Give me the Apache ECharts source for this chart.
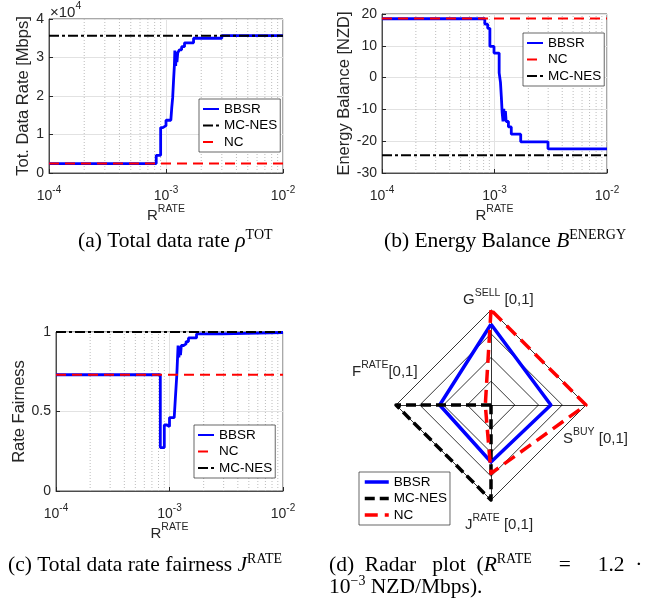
<!DOCTYPE html>
<html>
<head>
<meta charset="utf-8">
<script src="https://cdn.jsdelivr.net/npm/echarts@6.0.0/dist/echarts.min.js"></script>
<style>
html, body { margin: 0; padding: 0; background: #fff; }
#chart { width: 648px; height: 608px; }
</style>
</head>
<body>
<div id="chart"></div>
<script>
// ---- data ----
// (a) total data rate [Mbps] vs R^RATE
var rateA = [1e-4, 8.25e-4, 9.0e-4, 9.4e-4, 1.0e-3, 1.1e-3, 1.12e-3, 1.14e-3, 1.16e-3, 1.18e-3, 1.19e-3, 1.21e-3, 1.22e-3, 1.24e-3, 1.26e-3, 1.3e-3, 1.36e-3, 1.44e-3, 1.72e-3, 3.0e-3, 1e-2];
var bbsrRate = [2450, 4600, 11800, 12300, 13700, 13800, 17000, 19500, 24000, 28000, 31800, 27800, 31500, 28800, 31200, 32000, 32800, 33800, 35000, 35660, 35660];
var ncRate = 2450;
var mcRate = 35660;

// (b) energy balance [NZD]
var rateB = [1e-4, 8.2e-4, 8.7e-4, 9.1e-4, 9.9e-4, 1.1e-3, 1.13e-3, 1.15e-3, 1.17e-3, 1.19e-3, 1.21e-3, 1.23e-3, 1.25e-3, 1.27e-3, 1.33e-3, 1.41e-3, 1.71e-3, 2.99e-3, 1e-2];
var bbsrEnergy = [18.5, 16.8, 15.5, 9.8, 7.7, 1.5, -1.5, -6, -11, -13.8, -9.8, -13.6, -10.5, -13.8, -15.5, -17.8, -20.2, -22.4, -22.4];
var ncEnergy = 18.6;
var mcEnergy = -24.4;

// (c) rate fairness
var rateC = [1e-4, 8.3e-4, 9.0e-4, 9.5e-4, 1.0e-3, 1.1e-3, 1.13e-3, 1.16e-3, 1.19e-3, 1.21e-3, 1.23e-3, 1.25e-3, 1.27e-3, 1.33e-3, 1.4e-3, 1.47e-3, 1.73e-3, 2.9e-3, 1e-2];
var bbsrFair = [0.731, 0.273, 0.415, 0.405, 0.462, 0.466, 0.6, 0.73, 0.915, 0.84, 0.91, 0.855, 0.915, 0.925, 0.94, 0.963, 0.988, 0.997, 0.997];
var ncFair = 0.731;
var mcFair = 1.0;

// (d) radar, axis order G^SELL, F^RATE, J^RATE, S^BUY
var radarBBSR = [0.85, 0.54, 0.6, 0.63];
var radarMC = [0, 1, 1, 0];
var radarNC = [1, 0.06, 0.72, 1];

// axis limits and log minor grid positions
var xRange = [1e-4, 1e-2];
var yRangeA = [0, 40000];
var yRangeB = [-30, 20];
var yRangeC = [0, 1];
var minorTicks = [2e-4, 3e-4, 4e-4, 5e-4, 6e-4, 7e-4, 8e-4, 9e-4, 2e-3, 3e-3, 4e-3, 5e-3, 6e-3, 7e-3, 8e-3, 9e-3];

var myChart = echarts.init(document.getElementById('chart'));

// ---- styles ----
var FONT = 'Liberation Sans, Arial, sans-serif';
var SERIF = 'Liberation Serif, Times New Roman, serif';
var INK = '#262626';
// transparent 1x1 gif, so the legend draws only the line (no marker)
var NO_MARK = 'image://data:image/gif;base64,R0lGODlhAQABAIAAAAAAAP///yH5BAEAAAAALAAAAAABAAEAAAIBRAA7';

var styleBBSR = { color: '#0000ff', width: 2.8, type: 'solid' };
var styleNC = { color: '#ff0000', width: 2, type: [10, 6] };
var styleMC = { color: '#000000', width: 2, type: [10, 3, 3, 3] };

var supRich = {
    m: { fontSize: 15, lineHeight: 24, color: INK, fontFamily: FONT, fontWeight: 'normal' },
    s: { fontSize: 10.5, lineHeight: 10, verticalAlign: 'top', color: INK, fontFamily: FONT, fontWeight: 'normal' }
};
var capRich = {
    n: { fontSize: 21.5, lineHeight: 26, color: '#000', fontFamily: SERIF, fontWeight: 'normal' },
    i: { fontSize: 21.5, lineHeight: 26, color: '#000', fontFamily: SERIF, fontWeight: 'normal', fontStyle: 'italic' },
    s: { fontSize: 14, lineHeight: 12, verticalAlign: 'top', color: '#000', fontFamily: SERIF, fontWeight: 'normal' }
};

function pairs(xs, ys) {
    return xs.map(function (x, i) { return [x, ys[i]]; });
}

function flat(v) {
    return [[xRange[0], v], [xRange[1], v]];
}

function line(name, data, idx, style) {
    return {
        type: 'line',
        name: name,
        xAxisIndex: idx,
        yAxisIndex: idx,
        data: data,
        step: 'end',
        symbol: NO_MARK,
        showSymbol: false,
        clip: false,
        lineStyle: style,
        itemStyle: { color: style.color },
        z: 3
    };
}

// dotted minor grid of the log axis: vertical segments broken by empty values
function minorGrid(idx, yr) {
    var pts = [];
    minorTicks.forEach(function (v) {
        pts.push([v, yr[0]], [v, yr[1]], [v, '-']);
    });
    return {
        type: 'line',
        name: 'minor' + idx,
        xAxisIndex: idx,
        yAxisIndex: idx,
        data: pts,
        symbol: 'none',
        silent: true,
        connectNulls: false,
        lineStyle: { type: [1, 2], color: '#bcbcbc', width: 1 },
        z: 1
    };
}

function xAxis(idx) {
    return {
        type: 'log',
        logBase: 10,
        gridIndex: idx,
        min: xRange[0],
        max: xRange[1],
        axisLine: { onZero: false, lineStyle: { color: INK, width: 0.8 } },
        axisTick: { inside: true, length: 4, lineStyle: { color: INK } },
        splitLine: { show: true, lineStyle: { color: '#e2e2e2', width: 1 } },
        axisLabel: {
            margin: 12,
            formatter: function (v) {
                return '{b|10}{e|' + Math.round(Math.log10(v)) + '}';
            },
            rich: {
                b: { fontSize: 14, lineHeight: 22, color: INK, fontFamily: FONT },
                e: { fontSize: 10, lineHeight: 10, verticalAlign: 'top', color: INK, fontFamily: FONT }
            }
        },
        name: '{m|R}{s|RATE}',
        nameLocation: 'middle',
        nameGap: 28,
        nameTextStyle: { rich: supRich }
    };
}

function yAxis(idx, yr, interval, name, gap, fmt) {
    return {
        type: 'value',
        gridIndex: idx,
        min: yr[0],
        max: yr[1],
        interval: interval,
        axisLine: { show: true, lineStyle: { color: INK, width: 0.8 } },
        axisTick: { show: true, inside: true, length: 4, lineStyle: { color: INK } },
        splitLine: { show: true, lineStyle: { color: '#e2e2e2', width: 1 } },
        axisLabel: { fontSize: 14, color: INK, fontFamily: FONT, margin: 5, formatter: fmt },
        name: name,
        nameLocation: 'middle',
        nameGap: gap,
        nameTextStyle: { fontSize: 16.5, color: INK, fontFamily: FONT }
    };
}

var legendBase = {
    orient: 'vertical',
    padding: [3, 3, 3, 3],
    itemGap: 2.5,
    itemWidth: 16,
    itemHeight: 14,
    selectedMode: false,
    backgroundColor: '#fff',
    borderColor: INK,
    borderWidth: 0.7,
    borderRadius: 0,
    textStyle: { fontSize: 13.5, color: '#000', fontFamily: FONT }
};

function legend(names, left, top, extra) {
    return Object.assign({}, legendBase, { data: names, left: left, top: top }, extra || {});
}

function title(text, left, top, rich) {
    return { text: text, left: left, top: top, padding: 0, textStyle: { fontWeight: 'normal', rich: rich } };
}

var option = {
    animation: false,
    backgroundColor: '#fff',
    title: [
        title('{m|×10}{s|4}', 50, 1, supRich),
        title('{m|G}{s|SELL}{m| [0,1]}', 463, 288, supRich),
        title('{m|F}{s|RATE}{m|[0,1]}', 352, 360, supRich),
        title('{m|S}{s|BUY}{m| [0,1]}', 563, 427, supRich),
        title('{m|J}{s|RATE}{m| [0,1]}', 465, 513, supRich),
        title('{n|(a) Total data rate }{i|ρ}{s|TOT}', 78, 228, capRich),
        title('{n|(b) Energy Balance }{i|B}{s|ENERGY}', 384, 228, capRich),
        title('{n|(c) Total data rate fairness }{i|J}{s|RATE}', 8, 552, capRich),
        title('{n|(d)  Radar   plot  (}{i|R}{s|RATE}{n|     =     1.2  ·}', 329, 552, capRich),
        title('{n|10}{s|−3}{n| NZD/Mbps).}', 329, 574, capRich)
    ],
    grid: [
        { left: 49, top: 19, width: 234, height: 154, show: true, borderColor: INK, borderWidth: 0.8 },
        { left: 382, top: 14, width: 225, height: 159, show: true, borderColor: INK, borderWidth: 0.8 },
        { left: 56, top: 332, width: 227, height: 159, show: true, borderColor: INK, borderWidth: 0.8 }
    ],
    xAxis: [xAxis(0), xAxis(1), xAxis(2)],
    yAxis: [
        yAxis(0, yRangeA, 10000, 'Tot. Data Rate [Mbps]', 10, function (v) { return v / 10000; }),
        yAxis(1, yRangeB, 10, 'Energy Balance [NZD]', 29),
        yAxis(2, yRangeC, 0.5, 'Rate Fairness', 24)
    ],
    legend: [
        legend(['BBSR', 'MC-NES', 'NC'], 199, 99),
        legend(['BBSR', 'NC', 'MC-NES'], 523, 33),
        legend(['BBSR', 'NC', 'MC-NES'], 194, 425),
        legend([
            { name: 'BBSR', lineStyle: { width: 3.5, type: 'solid', color: '#0000ff' } },
            { name: 'MC-NES', lineStyle: { width: 3.5, type: [10, 5], color: '#000' } },
            { name: 'NC', lineStyle: { width: 3.5, type: [13, 7], color: '#ff0000' } }
        ], 359, 472, { itemWidth: 24, padding: [3, 3, 3, 4] })
    ],
    radar: {
        center: [491, 405],
        radius: 95,
        startAngle: 90,
        shape: 'polygon',
        splitNumber: 4,
        indicator: [
            { name: 'G', min: 0, max: 1 },
            { name: 'F', min: 0, max: 1 },
            { name: 'J', min: 0, max: 1 },
            { name: 'S', min: 0, max: 1 }
        ],
        axisName: { show: false },
        axisLine: { lineStyle: { color: '#000', width: 0.8 } },
        splitLine: { lineStyle: { color: '#000', width: 0.8 } },
        splitArea: { show: false }
    },
    series: [
        minorGrid(0, yRangeA), minorGrid(1, yRangeB), minorGrid(2, yRangeC),
        // (a)
        line('BBSR', pairs(rateA, bbsrRate), 0, styleBBSR),
        line('MC-NES', flat(mcRate), 0, styleMC),
        line('NC', flat(ncRate), 0, styleNC),
        // (b)
        line('BBSR', pairs(rateB, bbsrEnergy), 1, styleBBSR),
        line('NC', flat(ncEnergy), 1, styleNC),
        line('MC-NES', flat(mcEnergy), 1, styleMC),
        // (c)
        line('BBSR', pairs(rateC, bbsrFair), 2, styleBBSR),
        line('NC', flat(ncFair), 2, styleNC),
        line('MC-NES', flat(mcFair), 2, styleMC),
        // (d)
        {
            type: 'radar',
            name: 'radar',
            symbol: 'none',
            z: 3,
            data: [
                { name: 'BBSR', value: radarBBSR, lineStyle: { color: '#0000ff', width: 3.5, type: 'solid' } },
                { name: 'MC-NES', value: radarMC, lineStyle: { color: '#000', width: 3.5, type: [10, 5] } },
                { name: 'NC', value: radarNC, lineStyle: { color: '#ff0000', width: 3.5, type: [13, 7] } }
            ]
        }
    ]
};

myChart.setOption(option);
</script>
</body>
</html>
